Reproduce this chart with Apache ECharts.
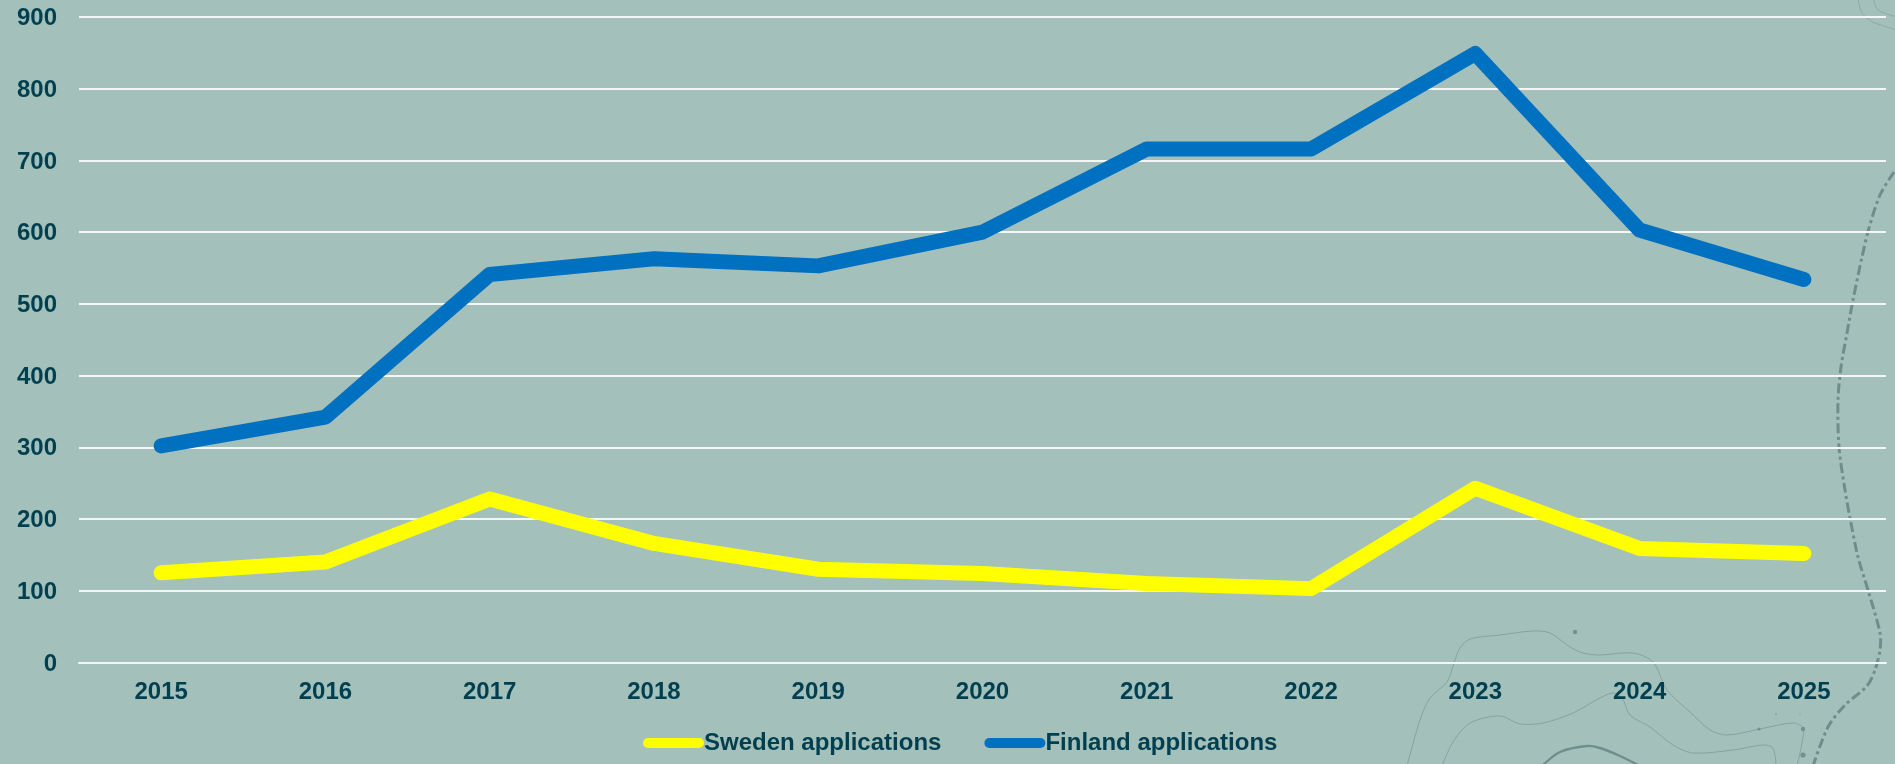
<!DOCTYPE html>
<html>
<head>
<meta charset="utf-8">
<style>html,body{margin:0;padding:0;background:#a3c0ba;overflow:hidden}#c{width:1895px;height:764px}</style>
<script src="https://cdn.jsdelivr.net/npm/echarts@6/dist/echarts.min.js"></script>
</head>
<body>
<div id="c"></div>
<script>
const years = ['2015','2016','2017','2018','2019','2020','2021','2022','2023','2024','2025'];
const swedenApplications = [125,140,228,166,130,124,110,103,243,159,152];
const finlandApplications = [302,342,541,563,553,600,716,716,849,603,534];

// faint map contours printed in the background picture
const borderLine = [[1894,172],[1880,195],[1869,228],[1862,257],[1853,300],[1847,333],[1841,367],[1838,400],[1839,447],[1845,490],[1850,518],[1858,557],[1868,590],[1880,633],[1880,650],[1875,670],[1867,686],[1845,705],[1828,727],[1813,766]];
const contourA = [[1407,766],[1420,720],[1430,698],[1447,682],[1454,663],[1460,648],[1470,639],[1500,635],[1533,631],[1550,633],[1570,647],[1583,653],[1600,655],[1633,653],[1653,662],[1667,690],[1690,712],[1710,730],[1727,735],[1760,729],[1793,723],[1803,728],[1802,743],[1797,766]];
const contourB = [[1442,766],[1453,742],[1470,723],[1500,716],[1520,724],[1543,723],[1573,713],[1600,698],[1613,693],[1622,698],[1630,715],[1650,727],[1673,745],[1693,753],[1733,750],[1763,745],[1773,748],[1776,766]];
const contourC = [[1542,766],[1560,752],[1587,746],[1600,748],[1620,756],[1640,766]];
const contourD = [[1858,-2],[1862,13],[1873,22],[1897,30]];
const contourE = [[1873,-2],[1878,10],[1897,17]];
const mapDots = [[1575,632,2.2],[1803,729,2.2],[1803,755,2.6],[1759,729,1.6],[1776,714,0.8],[1800,714,0.6]];

const textColor = '#003f4f';
const fontFamily = '"Liberation Sans", Arial, sans-serif';
const thin = (pts, w, c, extra) => ({type:'polyline', silent:true, z:-10, shape:{points:pts, smooth:0.3},
  style:Object.assign({stroke:c, fill:null, lineWidth:w}, extra||{})});

const chart = echarts.init(document.getElementById('c'), null, {renderer:'canvas'});
chart.setOption({
  backgroundColor:'#a3c0ba',
  animation:false,
  graphic:{elements:[
    thin(borderLine, 3, '#718d8b', {lineDash:[10,3.5,3,3.5]}),
    thin(contourA, 1, '#86a3a0'),
    thin(contourB, 1, '#86a3a0'),
    thin(contourC, 2.4, '#6f8f8d'),
    thin(contourD, 1, '#8caba6'),
    thin(contourE, 1, '#8caba6')
  ].concat(mapDots.map(d => ({type:'circle', silent:true, z:-10, shape:{cx:d[0], cy:d[1], r:d[2]}, style:{fill:'#75908e'}})))},
  grid:{left:79, right:9, top:17, bottom:101.5, containLabel:false},
  legend:{
    left:638, top:726, itemWidth:61, itemHeight:10, itemGap:43,
    icon:'path://M5 0H56A5 5 0 0 1 56 10H5A5 5 0 0 1 5 0Z',
    data:['Sweden applications','Finland applications'],
    textStyle:{color:textColor, fontFamily, fontWeight:'bold', fontSize:24, padding:[0,0,0,-5]}
  },
  xAxis:{
    type:'category', data:years, boundaryGap:true,
    axisLine:{show:true, lineStyle:{color:'#f4f7f6', width:2}},
    axisTick:{show:false},
    axisLabel:{color:textColor, fontFamily, fontWeight:'bold', fontSize:24, margin:18, interval:0}
  },
  yAxis:{
    type:'value', min:0, max:900, interval:100,
    axisLine:{show:false}, axisTick:{show:false},
    splitLine:{lineStyle:{color:'#f4f7f6', width:2}},
    axisLabel:{color:textColor, fontFamily, fontWeight:'bold', fontSize:24, margin:22,
      formatter:v => '{a|' + v + '}',
      rich:{a:{color:textColor, fontFamily, fontWeight:'bold', fontSize:24, lineHeight:24, padding:[3,0,0,0]}}}
  },
  series:[
    {name:'Sweden applications', type:'line', data:swedenApplications, symbol:'none', color:'#ffff00',
     lineStyle:{color:'#ffff00', width:15, cap:'round', join:'round'}},
    {name:'Finland applications', type:'line', data:finlandApplications, symbol:'none', color:'#0070c0',
     lineStyle:{color:'#0070c0', width:15, cap:'round', join:'round'}}
  ]
});
</script>
</body>
</html>
